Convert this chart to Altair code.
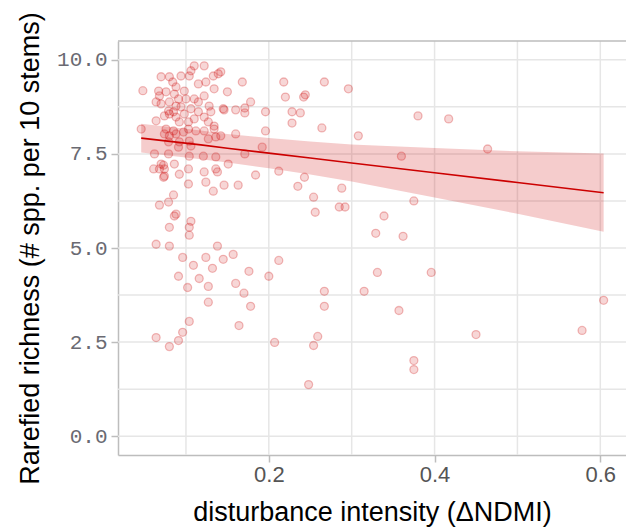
import altair as alt
import pandas as pd

# Disturbance intensity (ΔNDMI) and rarefied richness for each plot
x_vals = [
    0.048, 0.070, 0.080, 0.084, 0.088, 0.094, 0.104, 0.110, 0.122, 0.106,
    0.115, 0.124, 0.133, 0.139, 0.142, 0.134, 0.067, 0.068, 0.076, 0.086,
    0.091, 0.098, 0.100, 0.110, 0.115, 0.122, 0.064, 0.070, 0.080, 0.088,
    0.094, 0.106, 0.079, 0.080, 0.085, 0.074, 0.088, 0.098, 0.110, 0.122,
    0.128, 0.130, 0.145, 0.064, 0.092, 0.103, 0.115, 0.127, 0.134, 0.046,
    0.076, 0.085, 0.088, 0.097, 0.103, 0.112, 0.122, 0.134, 0.142, 0.074,
    0.080, 0.092, 0.127, 0.136, 0.079, 0.104, 0.091, 0.106, 0.062, 0.079,
    0.104, 0.121, 0.136, 0.070, 0.086, 0.061, 0.074, 0.103, 0.122, 0.136,
    0.073, 0.092, 0.103, 0.124, 0.133, 0.085, 0.079, 0.068, 0.088, 0.086,
    0.080, 0.106, 0.104, 0.104, 0.064, 0.080, 0.138, 0.096, 0.124, 0.145,
    0.109, 0.132, 0.091, 0.116, 0.127, 0.102, 0.127, 0.104, 0.096, 0.064,
    0.091, 0.080, 0.157, 0.176, 0.212, 0.200, 0.160, 0.170, 0.178, 0.164,
    0.207, 0.168, 0.218, 0.150, 0.220, 0.178, 0.171, 0.160, 0.146, 0.171,
    0.196, 0.228, 0.228, 0.196, 0.160, 0.192, 0.171, 0.151, 0.184, 0.163,
    0.146, 0.138, 0.212, 0.235, 0.068, 0.073, 0.074, 0.267, 0.244, 0.242,
    0.296, 0.238, 0.264, 0.308, 0.380, 0.417, 0.360, 0.464, 0.243, 0.288,
    0.254, 0.256, 0.285, 0.292, 0.375, 0.339, 0.329, 0.362, 0.331, 0.396,
    0.267, 0.315, 0.267, 0.357, 0.259, 0.254, 0.450, 0.578, 0.604, 0.375,
    0.375, 0.248,
]
y_vals = [
    9.18, 9.55, 9.55, 9.41, 9.28, 9.57, 9.57, 9.84, 9.84, 9.71,
    9.36, 9.41, 9.57, 9.63, 9.68, 9.23, 9.17, 9.04, 9.15, 9.09,
    8.96, 9.17, 8.96, 8.96, 8.88, 9.04, 8.88, 8.83, 8.88, 8.77,
    8.75, 8.70, 8.64, 8.56, 8.62, 8.51, 8.48, 8.56, 8.43, 8.48,
    8.77, 8.62, 8.70, 8.38, 8.35, 8.35, 8.62, 8.35, 8.24, 8.16,
    8.16, 8.11, 8.03, 8.08, 8.16, 8.11, 8.11, 8.16, 7.98, 8.03,
    7.98, 7.82, 7.90, 7.95, 7.82, 7.84, 7.68, 7.71, 7.50, 7.50,
    7.44, 7.44, 7.42, 7.23, 7.23, 7.10, 7.10, 7.10, 7.02, 7.10,
    6.88, 6.96, 6.70, 6.75, 6.51, 6.41, 6.22, 6.14, 5.90, 5.85,
    5.55, 5.71, 5.55, 5.34, 5.10, 5.05, 5.05, 4.75, 4.75, 4.70,
    4.54, 4.46, 4.25, 4.19, 3.98, 3.95, 3.56, 3.05, 2.76, 2.62,
    2.54, 2.38, 4.83, 4.38, 4.67, 4.25, 4.06, 3.80, 3.45, 2.94,
    2.49, 9.41, 9.41, 9.15, 9.01, 8.88, 8.72, 8.67, 8.67, 8.59,
    8.62, 8.62, 8.32, 8.11, 8.03, 7.68, 7.50, 7.23, 6.94, 6.67,
    6.67, 7.02, 7.04, 6.64, 7.10, 7.20, 6.91, 9.41, 9.07, 9.01,
    9.23, 8.59, 8.19, 7.98, 8.51, 8.43, 7.44, 7.63, 6.88, 6.59,
    6.35, 5.95, 6.09, 6.09, 6.25, 5.85, 5.39, 5.31, 4.35, 4.35,
    3.85, 3.85, 3.45, 3.34, 2.65, 2.41, 2.70, 2.81, 3.61, 2.01,
    1.77, 1.37,
]

# Linear fit with its 95% confidence band
fit_x = [0.046, 0.118, 0.15, 0.2, 0.25, 0.3, 0.4, 0.5, 0.604]
fit_y = [7.92, 7.74, 7.65, 7.52, 7.39, 7.26, 7.00, 6.74, 6.47]
fit_lo = [7.54, 7.36, 7.27, 7.12, 6.95, 6.77, 6.34, 5.91, 5.43]
fit_hi = [8.30, 8.12, 8.03, 7.92, 7.83, 7.75, 7.66, 7.57, 7.51]

# Panel grid (major and minor lines) and tick labels
x_grid = [0.1, 0.2, 0.3, 0.4, 0.5, 0.6]
y_grid = [0.0, 1.25, 2.5, 3.75, 5.0, 6.25, 7.5, 8.75, 10.0]
x_ticks = [0.2, 0.4, 0.6]
y_ticks = [0.0, 2.5, 5.0, 7.5, 10.0]
x_domain = [0.018, 0.631]
y_domain = [-0.5, 10.5]

pts = pd.DataFrame({"x": x_vals, "y": y_vals})
fit = pd.DataFrame({"x": fit_x, "fit": fit_y, "lo": fit_lo, "hi": fit_hi})
xg = pd.DataFrame({"g": x_grid})
yg = pd.DataFrame({"g": y_grid})
top = pd.DataFrame({"t": [y_domain[1]]})

RED = "#cc0000"
GRID = "#e6e6e6"
BORDER = "#bdbdbd"

xs = alt.Scale(domain=x_domain, nice=False, zero=False)
ys = alt.Scale(domain=y_domain, nice=False, zero=False)

x_axis = alt.Axis(
    values=x_ticks, format=".1f", grid=False,
    domainColor=BORDER, domainWidth=1.5,
    tickColor=BORDER, tickWidth=1.5, tickSize=7,
    labelFont="Liberation Sans", labelFontSize=22, labelColor="#555555",
    labelPadding=2,
    title="disturbance intensity (ΔNDMI)",
    titleFont="Liberation Sans", titleFontSize=27, titleFontWeight="normal",
    titleColor="#000000", titlePadding=14,
)
y_axis = alt.Axis(
    values=y_ticks, format=".1f", grid=False,
    domainColor=BORDER, domainWidth=1.5,
    tickColor=BORDER, tickWidth=1.5, tickSize=7,
    labelFont="Liberation Mono", labelFontSize=21, labelColor="#6a6a72",
    labelPadding=4,
    title="Rarefied richness (# spp. per 10 stems)",
    titleFont="Liberation Sans", titleFontSize=27, titleFontWeight="normal",
    titleColor="#000000", titlePadding=12,
)

vgrid = alt.Chart(xg).mark_rule(color=GRID, strokeWidth=1.5).encode(
    x=alt.X("g:Q", scale=xs, axis=x_axis)
)
hgrid = alt.Chart(yg).mark_rule(color=GRID, strokeWidth=1.5).encode(
    y=alt.Y("g:Q", scale=ys, axis=y_axis)
)
top_border = alt.Chart(top).mark_rule(color=BORDER, strokeWidth=1.5).encode(
    y=alt.Y("t:Q", scale=ys)
)

points = alt.Chart(pts).mark_point(
    shape="circle", filled=False, size=64,
    fill=RED, fillOpacity=0.16,
    stroke=RED, strokeOpacity=0.26, strokeWidth=1.3,
).encode(
    x=alt.X("x:Q", scale=xs),
    y=alt.Y("y:Q", scale=ys),
)

band = alt.Chart(fit).mark_area(color=RED, opacity=0.2).encode(
    x=alt.X("x:Q", scale=xs),
    y=alt.Y("lo:Q", scale=ys),
    y2="hi:Q",
)
line = alt.Chart(fit).mark_line(color=RED, strokeWidth=1.6).encode(
    x=alt.X("x:Q", scale=xs),
    y=alt.Y("fit:Q", scale=ys),
)

chart = alt.layer(vgrid, hgrid, points, band, line, top_border).properties(
    width=508,
    height=414,
    autosize=alt.AutoSizeParams(type="none"),
    padding={"left": 118, "top": 41, "right": 0, "bottom": 74},
    background="#ffffff",
).configure_view(stroke=None)

chart.save("out.html", embed_options={"renderer": "svg", "actions": False})
